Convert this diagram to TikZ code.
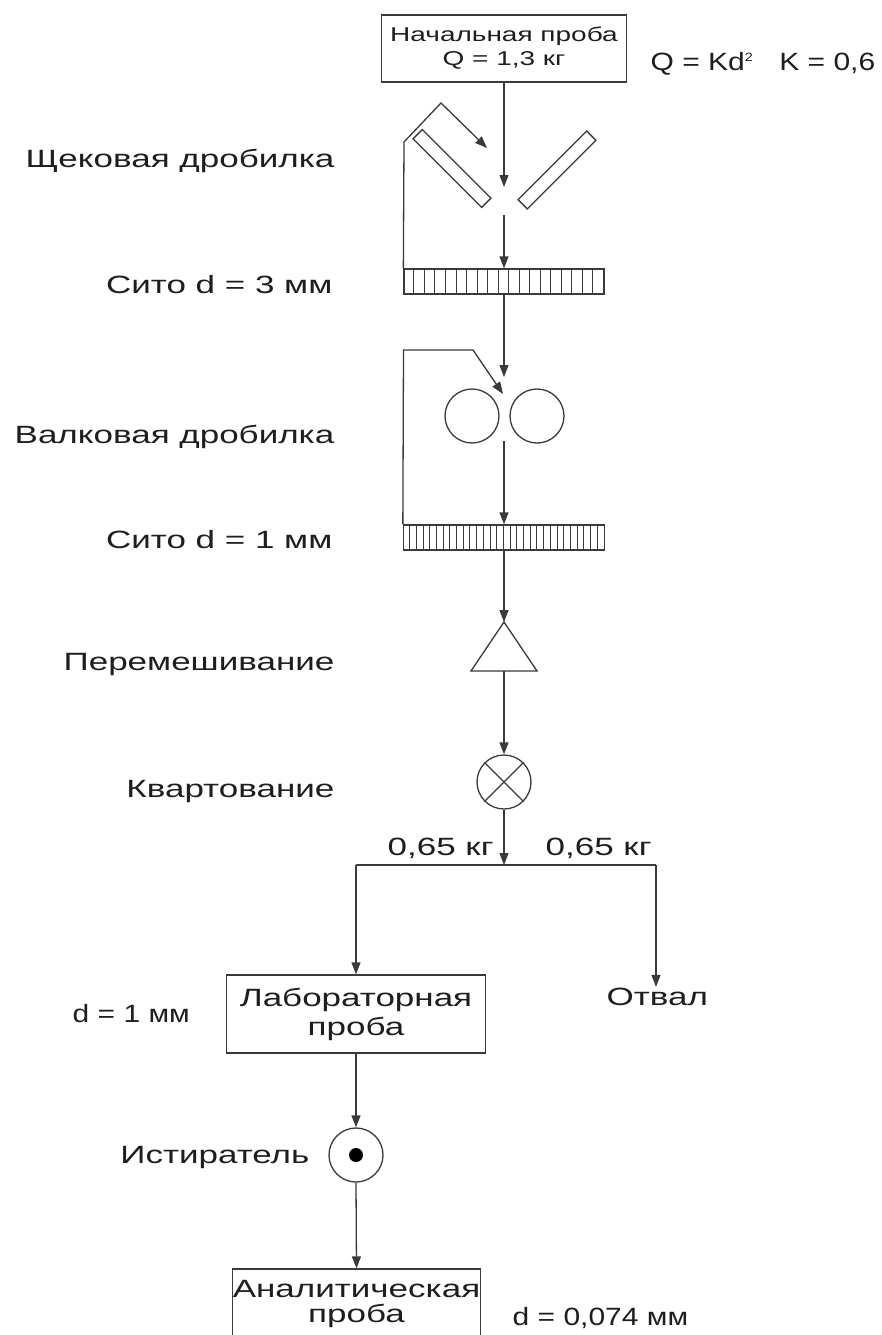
\documentclass[tikz,border=0pt]{standalone}
\usepackage{fontspec}
\setmainfont{Liberation Sans}[FakeStretch=1.4]
\newfontfamily\narrowsans{Liberation Sans}[FakeStretch=1.2]
\usetikzlibrary{arrows.meta,calc}
\definecolor{ink}{HTML}{3A3A3A}
\definecolor{txt}{HTML}{1E1E1E}
\begin{document}
\begin{tikzpicture}[x=1pt,y=-1pt,
  line width=1.3pt,
  line/.style={draw=ink},
  flow/.style={draw=ink,-{Triangle[length=12pt,width=9pt]}},
  hatch/.style={draw=ink,line width=0.9pt},
  lbl/.style={inner sep=0pt,text=txt,font=\fontsize{25}{29}\selectfont},
  narrowlbl/.style={lbl,font=\narrowsans\fontsize{25}{29}\selectfont},
  boxnode/.style={draw=ink,rectangle,inner sep=0pt,align=center,text=txt},
  plate/.style={draw=ink,rectangle,inner sep=0pt,minimum width=97pt,minimum height=13pt},
  roll/.style={draw=ink,circle,inner sep=0pt,minimum size=54pt},
  sieve/.style={draw=ink,rectangle,inner sep=0pt,minimum height=25pt}]

\useasboundingbox (0,0) rectangle (882,1335);
\clip (0,0) rectangle (882,1335);
\fill[white] (0,0) rectangle (882,1335);

% initial sample
\node[boxnode,minimum width=245pt,minimum height=67pt,
      font=\fontsize{20}{24}\selectfont] (start) at (504,48.5)
      {\strut Начальная проба\\ \strut Q = 1,3 кг};
\node[narrowlbl,anchor=base west] (formula) at (650,71)
      {Q = Kd\textsuperscript{\fontsize{12}{12}\selectfont 2}\hspace{26pt}K = 0,6};

% jaw crusher
\node[plate,rotate=-45] (jawL) at (452,168.5) {};
\node[plate,rotate=45] (jawR) at (557,170) {};
\coordinate (jawIn) at (504,187);
\coordinate (jawOut) at (504,215);
\node[lbl,anchor=base east] (jawlbl) at (335,167) {Щековая дробилка};

% sieve 3 mm
\node[sieve,minimum width=200pt] (sieveA) at (504,281.5) {};
\foreach \i in {1,...,18}
  \draw[hatch] ($(sieveA.north west)+(\i*200/19,0)$) -- ($(sieveA.south west)+(\i*200/19,0)$);
\node[lbl,anchor=base east] (sieveAlbl) at (333,293) {Сито d = 3 мм};

% roll crusher
\node[roll] (rollL) at (472,416) {};
\node[roll] (rollR) at (537,416) {};
\coordinate (rollIn) at (504,377);
\coordinate (rollOut) at (504,441);
\node[lbl,anchor=base east] (rolllbl) at (335,443) {Валковая дробилка};

% sieve 1 mm
\node[sieve,minimum width=201pt] (sieveB) at (504,537.5) {};
\foreach \i in {1,...,29}
  \draw[hatch] ($(sieveB.north west)+(\i*201/30,0)$) -- ($(sieveB.south west)+(\i*201/30,0)$);
\node[lbl,anchor=base east] (sieveBlbl) at (333,548) {Сито d = 1 мм};

% mixing
\coordinate (mixTop) at (504,622);
\coordinate (mixBot) at (504,671);
\draw[line] (mixTop) -- (537,671) -- (471,671) -- cycle;
\node[lbl,anchor=base east] (mixlbl) at (335,670) {Перемешивание};

% quartering
\node[roll] (quart) at (504,782) {};
\draw[line] (quart.45) -- (quart.225) (quart.135) -- (quart.-45);
\node[lbl,anchor=base east] (quartlbl) at (335,797) {Квартование};

% split
\coordinate (split) at (504,865);
\coordinate (splitL) at (356,865);
\coordinate (splitR) at (656,865);
\node[lbl,anchor=base west] (massL) at (387,855) {0,65 кг};
\node[lbl,anchor=base west] (massR) at (545,855) {0,65 кг};

% laboratory sample
\node[boxnode,minimum width=259pt,minimum height=78pt,
      font=\fontsize{25}{29}\selectfont] (lab) at (356,1014)
      {Лабораторная\\проба};
\node[narrowlbl,anchor=base west] (labd) at (72,1022) {d = 1 мм};
\node[lbl,anchor=base west] (dump) at (606,1005) {Отвал};

% grinder
\node[roll] (grind) at (356,1155) {};
\fill[black] (grind.center) circle (7pt);
\node[lbl,anchor=base east] (grindlbl) at (310,1163) {Истиратель};

% analytical sample
\node[boxnode,minimum width=247pt,minimum height=70pt,
      font=\fontsize{25}{25}\selectfont] (anal) at (356.5,1304)
      {Аналитическая\\проба};
\node[narrowlbl,anchor=base west] (anald) at (512,1325) {d = 0,074 мм};

% main flow
\draw[flow] (start.south) -- (jawIn);
\draw[flow] (jawOut) -- (sieveA.north);
\draw[flow] (sieveA.north west) -- (404,142) -- (441,103) -- (487,148);
\draw[flow] (sieveA.south) -- (rollIn);
\draw[flow] (sieveB.north west) -- (403.5,350) -- (473,350) -- (503,394);
\draw[flow] (rollOut) -- (sieveB.north);
\draw[flow] (sieveB.south) -- (mixTop);
\draw[flow] (mixBot) -- (quart.north);
\draw[flow] (quart.south) -- (split);
\draw[line] (splitL) -- (splitR);
\draw[flow] (splitL) -- (lab.north);
\draw[flow] (splitR) -- (dump.north -| splitR);
\draw[flow] (lab.south) -- (grind.north);
\draw[flow] (grind.south) -- (anal.north);
\end{tikzpicture}
\end{document}
